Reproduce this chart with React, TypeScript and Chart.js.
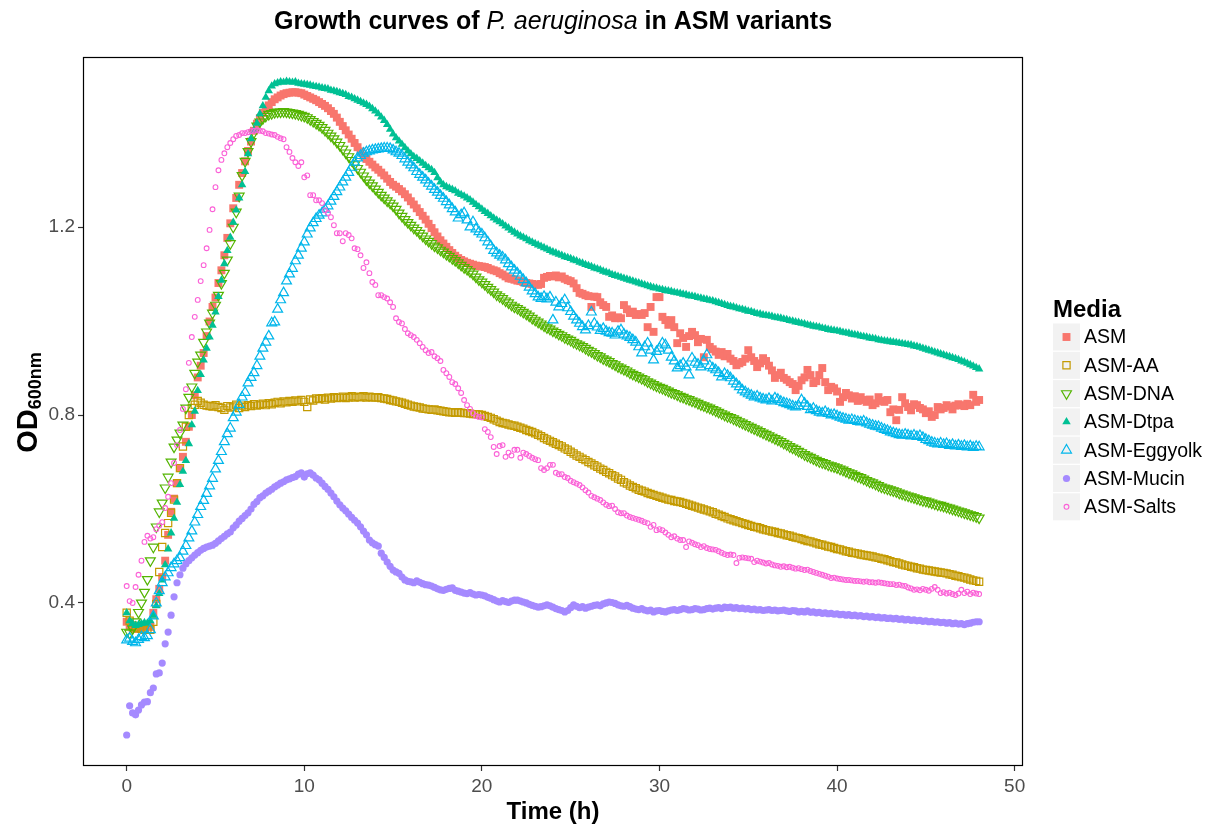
import React, { useEffect, useRef } from "react";
import { Chart, registerables } from "chart.js";

Chart.register(...registerables);

// ---------------- data ----------------
const MEDIA = ["ASM", "ASM-AA", "ASM-DNA", "ASM-Dtpa", "ASM-Eggyolk", "ASM-Mucin", "ASM-Salts"];
const X_TICKS = [0, 10, 20, 30, 40, 50];
const Y_TICKS = [0.4, 0.8, 1.2];
const READING_INTERVAL_H = 1 / 6; // one OD reading every 10 minutes, 0 h to 48 h

const ASM = [
  0.360, 0.352, 0.347, 0.345, 0.346, 0.348,
  0.350, 0.352, 0.349, 0.379, 0.408, 0.430,
  0.455, 0.490, 0.545, 0.594, 0.622, 0.655,
  0.687, 0.711, 0.743, 0.775, 0.800, 0.842,
  0.880, 0.905, 0.932, 0.968, 0.999, 1.030,
  1.050, 1.081, 1.108, 1.140, 1.177, 1.208,
  1.240, 1.262, 1.290, 1.315, 1.340, 1.362,
  1.382, 1.405, 1.420, 1.432, 1.443, 1.452,
  1.459, 1.466, 1.472, 1.476, 1.480, 1.483,
  1.485, 1.486, 1.487, 1.487, 1.486, 1.485,
  1.482, 1.479, 1.476, 1.473, 1.470, 1.466,
  1.462, 1.458, 1.453, 1.447, 1.441, 1.433,
  1.424, 1.415, 1.406, 1.397, 1.388, 1.379,
  1.370, 1.361, 1.352, 1.345, 1.339, 1.333,
  1.327, 1.322, 1.316, 1.310, 1.303, 1.296,
  1.290, 1.286, 1.281, 1.276, 1.270, 1.263,
  1.255, 1.248, 1.240, 1.232, 1.224, 1.216,
  1.207, 1.198, 1.189, 1.180, 1.172, 1.165,
  1.158, 1.151, 1.145, 1.139, 1.134, 1.130,
  1.127, 1.124, 1.122, 1.120, 1.118, 1.117,
  1.116, 1.115, 1.113, 1.110, 1.108, 1.106,
  1.102, 1.099, 1.095, 1.091, 1.090, 1.088,
  1.086, 1.085, 1.083, 1.081, 1.080, 1.079,
  1.078, 1.077, 1.079, 1.092, 1.094, 1.096,
  1.095, 1.097, 1.093, 1.095, 1.090, 1.087,
  1.085, 1.080, 1.070, 1.060, 1.058, 1.055,
  1.053, 1.030, 1.052, 1.051, 1.040, 1.034,
  1.030, 1.009, 1.012, 1.006, 1.008, 1.006,
  1.034, 1.025, 1.017, 1.020, 1.013, 1.015,
  1.013, 1.017, 0.987, 1.030, 0.977, 1.051,
  1.051, 1.009, 1.002, 0.992, 1.002, 0.987,
  0.953, 0.974, 0.964, 0.945, 0.968, 0.977,
  0.970, 0.955, 0.962, 0.923, 0.960, 0.945,
  0.940, 0.935, 0.928, 0.934, 0.925, 0.930,
  0.920, 0.915, 0.906, 0.910, 0.913, 0.920,
  0.938, 0.923, 0.915, 0.902, 0.910, 0.921,
  0.915, 0.905, 0.895, 0.879, 0.885, 0.890,
  0.879, 0.875, 0.870, 0.866, 0.853, 0.862,
  0.874, 0.880, 0.896, 0.885, 0.868, 0.872,
  0.885, 0.900, 0.870, 0.853, 0.860, 0.857,
  0.850, 0.828, 0.838, 0.847, 0.842, 0.835,
  0.840, 0.830, 0.838, 0.832, 0.828, 0.833,
  0.821, 0.825, 0.838, 0.830, 0.828, 0.832,
  0.806, 0.812, 0.789, 0.811, 0.838, 0.825,
  0.817, 0.810, 0.823, 0.821, 0.815, 0.812,
  0.804, 0.808, 0.796, 0.800, 0.817, 0.812,
  0.815, 0.821, 0.818, 0.812, 0.820, 0.823,
  0.821, 0.819, 0.824, 0.821, 0.843, 0.828,
  0.832,
];

const ASM_AA = [
  0.379, 0.362, 0.352, 0.348, 0.346, 0.345,
  0.343, 0.345, 0.343, 0.360, 0.398, 0.466,
  0.519, 0.549, 0.570, 0.592, 0.620, 0.655,
  0.687, 0.733, 0.775, 0.800, 0.815, 0.822,
  0.830, 0.826, 0.822, 0.820, 0.819, 0.818,
  0.821, 0.817, 0.815, 0.811, 0.819, 0.816,
  0.818, 0.822, 0.815, 0.820, 0.817, 0.821,
  0.819, 0.823, 0.820, 0.822, 0.824, 0.821,
  0.825, 0.823, 0.826, 0.828, 0.825, 0.829,
  0.827, 0.830, 0.828, 0.831, 0.829, 0.832,
  0.828, 0.817, 0.833, 0.831, 0.835, 0.834,
  0.836, 0.833, 0.837, 0.835, 0.838, 0.836,
  0.837, 0.839, 0.836, 0.838, 0.840, 0.837,
  0.839, 0.838, 0.840, 0.837, 0.839, 0.838,
  0.837, 0.838, 0.836, 0.835, 0.834, 0.832,
  0.831, 0.829, 0.828, 0.826, 0.824, 0.822,
  0.820, 0.818, 0.817, 0.816, 0.814, 0.813,
  0.812, 0.811, 0.812, 0.810, 0.809, 0.808,
  0.807, 0.806, 0.806, 0.805, 0.806, 0.805,
  0.804, 0.804, 0.803, 0.802, 0.802, 0.801,
  0.800, 0.798, 0.796, 0.794, 0.791, 0.788,
  0.785, 0.783, 0.782, 0.780, 0.778, 0.777,
  0.775, 0.773, 0.771, 0.768, 0.766, 0.764,
  0.761, 0.758, 0.755, 0.751, 0.748, 0.745,
  0.742, 0.739, 0.736, 0.733, 0.729, 0.726,
  0.722, 0.718, 0.714, 0.711, 0.707, 0.704,
  0.700, 0.697, 0.693, 0.690, 0.686, 0.683,
  0.679, 0.676, 0.672, 0.669, 0.665, 0.662,
  0.657, 0.654, 0.650, 0.647, 0.644, 0.641,
  0.639, 0.637, 0.634, 0.632, 0.630, 0.628,
  0.626, 0.624, 0.622, 0.620, 0.619, 0.617,
  0.616, 0.615, 0.613, 0.611, 0.609, 0.607,
  0.605, 0.603, 0.601, 0.599, 0.597, 0.595,
  0.593, 0.590, 0.588, 0.585, 0.583, 0.580,
  0.578, 0.576, 0.574, 0.572, 0.570, 0.568,
  0.566, 0.564, 0.562, 0.561, 0.559, 0.557,
  0.555, 0.554, 0.552, 0.551, 0.549, 0.548,
  0.546, 0.544, 0.543, 0.541, 0.539, 0.538,
  0.536, 0.534, 0.532, 0.531, 0.529, 0.527,
  0.525, 0.524, 0.522, 0.520, 0.519, 0.517,
  0.515, 0.514, 0.512, 0.510, 0.509, 0.507,
  0.506, 0.505, 0.503, 0.502, 0.501, 0.500,
  0.499, 0.497, 0.496, 0.494, 0.493, 0.491,
  0.489, 0.487, 0.486, 0.484, 0.482, 0.480,
  0.479, 0.477, 0.476, 0.474, 0.473, 0.471,
  0.470, 0.469, 0.468, 0.467, 0.466, 0.465,
  0.464, 0.463, 0.461, 0.460, 0.458, 0.457,
  0.455, 0.454, 0.452, 0.450, 0.448, 0.447,
  0.445,
];

const ASM_DNA = [
  0.338, 0.336, 0.345, 0.360, 0.380, 0.400,
  0.423, 0.450, 0.490, 0.519, 0.562, 0.594,
  0.613, 0.645, 0.668, 0.700, 0.732, 0.747,
  0.762, 0.779, 0.815, 0.838, 0.860, 0.889,
  0.913, 0.928, 0.955, 0.977, 0.996, 1.017,
  1.034, 1.055, 1.080, 1.102, 1.130, 1.165,
  1.200, 1.232, 1.266, 1.310, 1.340, 1.361,
  1.382, 1.401, 1.415, 1.424, 1.431, 1.436,
  1.440, 1.442, 1.444, 1.445, 1.445, 1.446,
  1.445, 1.444, 1.443, 1.442, 1.440, 1.438,
  1.436, 1.433, 1.429, 1.425, 1.421, 1.417,
  1.412, 1.406, 1.400, 1.394, 1.388, 1.381,
  1.374, 1.366, 1.358, 1.350, 1.342, 1.333,
  1.325, 1.317, 1.309, 1.301, 1.294, 1.288,
  1.281, 1.274, 1.268, 1.262, 1.256, 1.251,
  1.245, 1.238, 1.230, 1.223, 1.216, 1.210,
  1.204, 1.198, 1.193, 1.187, 1.181, 1.175,
  1.170, 1.165, 1.160, 1.156, 1.151, 1.147,
  1.142, 1.138, 1.133, 1.129, 1.124, 1.119,
  1.114, 1.110, 1.105, 1.100, 1.094, 1.088,
  1.083, 1.078, 1.072, 1.067, 1.062, 1.056,
  1.052, 1.048, 1.043, 1.039, 1.034, 1.030,
  1.027, 1.023, 1.019, 1.015, 1.011, 1.006,
  1.002, 0.998, 0.994, 0.990, 0.986, 0.983,
  0.979, 0.976, 0.972, 0.969, 0.965, 0.962,
  0.959, 0.955, 0.952, 0.949, 0.946, 0.942,
  0.938, 0.935, 0.931, 0.927, 0.924, 0.920,
  0.917, 0.914, 0.910, 0.907, 0.903, 0.900,
  0.897, 0.894, 0.890, 0.887, 0.884, 0.881,
  0.878, 0.875, 0.871, 0.868, 0.865, 0.862,
  0.859, 0.857, 0.854, 0.851, 0.848, 0.846,
  0.843, 0.840, 0.838, 0.835, 0.833, 0.830,
  0.828, 0.825, 0.822, 0.820, 0.817, 0.815,
  0.812, 0.809, 0.806, 0.803, 0.800, 0.797,
  0.795, 0.792, 0.789, 0.786, 0.783, 0.780,
  0.777, 0.774, 0.771, 0.768, 0.765, 0.762,
  0.759, 0.756, 0.753, 0.750, 0.747, 0.744,
  0.740, 0.737, 0.733, 0.730, 0.727, 0.723,
  0.720, 0.716, 0.713, 0.710, 0.707, 0.704,
  0.701, 0.699, 0.697, 0.694, 0.692, 0.690,
  0.688, 0.685, 0.683, 0.680, 0.677, 0.675,
  0.672, 0.669, 0.667, 0.664, 0.661, 0.658,
  0.656, 0.653, 0.650, 0.647, 0.645, 0.643,
  0.641, 0.639, 0.637, 0.634, 0.632, 0.630,
  0.628, 0.626, 0.624, 0.622, 0.620, 0.618,
  0.617, 0.615, 0.613, 0.611, 0.609, 0.608,
  0.606, 0.604, 0.602, 0.600, 0.598, 0.596,
  0.594, 0.592, 0.590, 0.588, 0.586, 0.584,
  0.581,
];

const ASM_DTPA = [
  0.379, 0.362, 0.356, 0.352, 0.354, 0.356,
  0.358, 0.357, 0.362, 0.374, 0.394, 0.420,
  0.449, 0.481, 0.515, 0.549, 0.580, 0.614,
  0.652, 0.680, 0.703, 0.739, 0.779, 0.808,
  0.852, 0.886, 0.917, 0.942, 0.966, 0.991,
  1.019, 1.052, 1.087, 1.122, 1.150, 1.178,
  1.210, 1.236, 1.262, 1.290, 1.318, 1.356,
  1.388, 1.406, 1.421, 1.441, 1.458, 1.476,
  1.490, 1.500, 1.505, 1.507, 1.509, 1.508,
  1.510, 1.509, 1.508, 1.509, 1.506, 1.505,
  1.504, 1.503, 1.502, 1.500, 1.499, 1.498,
  1.496, 1.495, 1.494, 1.491, 1.490, 1.488,
  1.486, 1.484, 1.482, 1.478, 1.476, 1.473,
  1.470, 1.467, 1.464, 1.461, 1.457, 1.452,
  1.447, 1.441, 1.434, 1.427, 1.418, 1.408,
  1.398, 1.390, 1.383, 1.376, 1.369, 1.362,
  1.356, 1.350, 1.346, 1.341, 1.336, 1.331,
  1.326, 1.322, 1.316, 1.305, 1.296, 1.290,
  1.286, 1.283, 1.280, 1.277, 1.272, 1.269,
  1.266, 1.262, 1.258, 1.253, 1.248, 1.243,
  1.238, 1.233, 1.229, 1.224, 1.219, 1.215,
  1.211, 1.207, 1.202, 1.198, 1.193, 1.189,
  1.185, 1.181, 1.178, 1.175, 1.171, 1.168,
  1.165, 1.162, 1.159, 1.156, 1.153, 1.150,
  1.147, 1.145, 1.142, 1.140, 1.137, 1.135,
  1.133, 1.130, 1.128, 1.125, 1.123, 1.120,
  1.118, 1.116, 1.113, 1.111, 1.109, 1.106,
  1.104, 1.102, 1.099, 1.097, 1.095, 1.093,
  1.091, 1.089, 1.087, 1.085, 1.083, 1.081,
  1.079, 1.077, 1.075, 1.073, 1.071, 1.070,
  1.068, 1.067, 1.065, 1.064, 1.063, 1.061,
  1.060, 1.059, 1.057, 1.056, 1.054, 1.053,
  1.052, 1.050, 1.049, 1.047, 1.046, 1.044,
  1.043, 1.041, 1.039, 1.037, 1.035, 1.033,
  1.031, 1.030, 1.028, 1.026, 1.025, 1.023,
  1.021, 1.020, 1.018, 1.016, 1.015, 1.013,
  1.012, 1.011, 1.010, 1.008, 1.007, 1.006,
  1.004, 1.003, 1.001, 1.000, 0.998, 0.997,
  0.995, 0.994, 0.992, 0.991, 0.989, 0.988,
  0.987, 0.985, 0.984, 0.982, 0.981, 0.980,
  0.979, 0.978, 0.976, 0.975, 0.974, 0.972,
  0.971, 0.970, 0.968, 0.967, 0.966, 0.964,
  0.963, 0.962, 0.960, 0.959, 0.958, 0.957,
  0.956, 0.955, 0.954, 0.953, 0.952, 0.951,
  0.950, 0.949, 0.947, 0.946, 0.944, 0.942,
  0.940, 0.938, 0.936, 0.934, 0.932, 0.930,
  0.928, 0.926, 0.924, 0.922, 0.920, 0.918,
  0.915, 0.913, 0.910, 0.907, 0.904, 0.901,
  0.898,
];

const ASM_EGGYOLK = [
  0.321, 0.325, 0.318, 0.315, 0.322, 0.328,
  0.326, 0.330, 0.343, 0.372, 0.400, 0.426,
  0.443, 0.455, 0.464, 0.475, 0.483, 0.490,
  0.496, 0.510, 0.522, 0.538, 0.553, 0.572,
  0.588, 0.605, 0.618, 0.633, 0.649, 0.665,
  0.685, 0.703, 0.722, 0.743, 0.760, 0.772,
  0.794, 0.806, 0.822, 0.838, 0.848, 0.868,
  0.880, 0.890, 0.905, 0.925, 0.942, 0.955,
  0.968, 0.996, 0.998, 1.025, 1.045, 1.060,
  1.085, 1.100, 1.112, 1.128, 1.140, 1.155,
  1.168, 1.185, 1.198, 1.209, 1.218, 1.225,
  1.230, 1.238, 1.245, 1.255, 1.265, 1.275,
  1.285, 1.296, 1.306, 1.316, 1.327, 1.338,
  1.347, 1.352, 1.357, 1.360, 1.362, 1.364,
  1.365, 1.366, 1.367, 1.368, 1.368, 1.367,
  1.364, 1.360, 1.357, 1.352, 1.345, 1.338,
  1.332, 1.326, 1.318, 1.312, 1.306, 1.300,
  1.293, 1.287, 1.280, 1.274, 1.267, 1.261,
  1.254, 1.247, 1.239, 1.232, 1.219, 1.226,
  1.230, 1.215, 1.200, 1.211, 1.196, 1.190,
  1.185, 1.177, 1.168, 1.160, 1.150, 1.145,
  1.140, 1.136, 1.130, 1.122, 1.115, 1.108,
  1.102, 1.095, 1.088, 1.081, 1.072, 1.064,
  1.058, 1.051, 1.048, 1.052, 1.047, 1.051,
  1.002, 1.040, 1.030, 1.037, 1.045, 1.028,
  1.020, 1.010, 1.002, 0.995, 0.988, 0.981,
  0.990, 1.019, 0.995, 0.987, 0.980, 0.984,
  0.978, 0.975, 0.974, 0.970, 0.978, 0.981,
  0.972, 0.968, 0.965, 0.960, 0.955, 0.945,
  0.932, 0.945, 0.953, 0.938, 0.917, 0.935,
  0.942, 0.953, 0.949, 0.938, 0.923, 0.915,
  0.900, 0.905, 0.910, 0.902, 0.885, 0.921,
  0.912, 0.908, 0.902, 0.915, 0.928, 0.905,
  0.900, 0.896, 0.890, 0.881, 0.888, 0.884,
  0.879, 0.872, 0.866, 0.860, 0.853, 0.849,
  0.845, 0.842, 0.838, 0.840, 0.836, 0.834,
  0.832, 0.835, 0.830, 0.836, 0.833, 0.829,
  0.826, 0.824, 0.822, 0.819, 0.817, 0.820,
  0.832, 0.825, 0.818, 0.811, 0.814, 0.809,
  0.806, 0.804, 0.807, 0.803, 0.800, 0.801,
  0.798, 0.795, 0.793, 0.791, 0.789, 0.790,
  0.788, 0.786, 0.785, 0.787, 0.783, 0.780,
  0.778, 0.776, 0.775, 0.772, 0.769, 0.767,
  0.764, 0.762, 0.760, 0.758, 0.757, 0.759,
  0.757, 0.755, 0.757, 0.754, 0.756, 0.752,
  0.748, 0.745, 0.742, 0.740, 0.738, 0.740,
  0.737, 0.739, 0.735, 0.737, 0.734, 0.736,
  0.733, 0.735, 0.732, 0.734, 0.731, 0.733,
  0.732,
];

const ASM_MUCIN = [
  0.119, 0.181, 0.166, 0.162, 0.172, 0.183,
  0.189, 0.190, 0.209, 0.219, 0.249, 0.251,
  0.272, 0.313, 0.338, 0.374, 0.413, 0.443,
  0.460, 0.474, 0.483, 0.490, 0.496, 0.502,
  0.507, 0.512, 0.516, 0.519, 0.521, 0.523,
  0.527, 0.532, 0.537, 0.542, 0.547, 0.551,
  0.560, 0.566, 0.574, 0.580, 0.586, 0.592,
  0.600, 0.610, 0.616, 0.624, 0.628, 0.634,
  0.638, 0.642, 0.647, 0.651, 0.655, 0.658,
  0.662, 0.664, 0.667, 0.669, 0.674, 0.677,
  0.668, 0.675, 0.677, 0.672, 0.666, 0.662,
  0.655, 0.648, 0.642, 0.634, 0.626, 0.617,
  0.609, 0.602, 0.596, 0.589, 0.582, 0.576,
  0.570, 0.562, 0.553, 0.545, 0.534, 0.528,
  0.524, 0.521, 0.506, 0.497, 0.487, 0.478,
  0.470, 0.466, 0.463, 0.455, 0.449, 0.446,
  0.445, 0.443, 0.447, 0.444, 0.441, 0.439,
  0.438, 0.436, 0.433, 0.430, 0.428, 0.427,
  0.429, 0.431, 0.432, 0.427, 0.425, 0.423,
  0.421, 0.420, 0.422, 0.419, 0.417, 0.418,
  0.417, 0.415, 0.412, 0.410, 0.407, 0.404,
  0.402, 0.405, 0.403, 0.401, 0.404, 0.406,
  0.406, 0.404, 0.402, 0.400, 0.397, 0.395,
  0.393, 0.391, 0.392, 0.394, 0.396, 0.394,
  0.391, 0.388, 0.386, 0.384, 0.381, 0.384,
  0.390, 0.396, 0.393, 0.390, 0.392, 0.389,
  0.391, 0.393, 0.395, 0.396, 0.394, 0.398,
  0.400, 0.402, 0.401, 0.399, 0.396, 0.394,
  0.393, 0.395, 0.392, 0.389, 0.387, 0.386,
  0.388, 0.385, 0.383, 0.385, 0.381, 0.383,
  0.384, 0.382, 0.381, 0.383, 0.385, 0.386,
  0.384, 0.386, 0.388, 0.387, 0.385, 0.386,
  0.388, 0.387, 0.385, 0.386, 0.388, 0.389,
  0.387, 0.389, 0.390, 0.388, 0.391, 0.390,
  0.391, 0.389, 0.390, 0.388, 0.389, 0.387,
  0.388, 0.386, 0.387, 0.385, 0.386, 0.384,
  0.385, 0.386, 0.384, 0.385, 0.383, 0.384,
  0.385, 0.383, 0.382, 0.384, 0.383, 0.381,
  0.382, 0.381, 0.383, 0.380, 0.381, 0.379,
  0.380, 0.378, 0.379, 0.377, 0.378, 0.376,
  0.377, 0.375, 0.376, 0.374, 0.375, 0.373,
  0.374, 0.372, 0.373, 0.371, 0.372, 0.370,
  0.371, 0.369, 0.370, 0.368, 0.369, 0.367,
  0.368, 0.366, 0.367, 0.365, 0.366, 0.364,
  0.365, 0.363, 0.364, 0.362, 0.363, 0.361,
  0.362, 0.360, 0.361, 0.359, 0.360, 0.358,
  0.359, 0.357, 0.358, 0.356, 0.357, 0.355,
  0.356, 0.354, 0.356, 0.357, 0.359, 0.360,
  0.360,
];

const ASM_SALTS = [
  0.436, 0.404, 0.400, 0.434, 0.460, 0.490,
  0.530, 0.543, 0.537, 0.540, 0.557, 0.565,
  0.572, 0.602, 0.626, 0.655, 0.698, 0.736,
  0.768, 0.813, 0.855, 0.911, 0.966, 1.009,
  1.045, 1.085, 1.119, 1.155, 1.194, 1.238,
  1.285, 1.321, 1.343, 1.357, 1.370, 1.379,
  1.387, 1.394, 1.396, 1.400, 1.400, 1.402,
  1.404, 1.405, 1.406, 1.405, 1.404, 1.400,
  1.399, 1.397, 1.396, 1.392, 1.389, 1.387,
  1.370, 1.360, 1.347, 1.338, 1.330, 1.338,
  1.306, 1.310, 1.268, 1.268, 1.257, 1.257,
  1.251, 1.236, 1.230, 1.221, 1.204, 1.187,
  1.187, 1.170, 1.187, 1.183, 1.176, 1.155,
  1.153, 1.140, 1.113, 1.125, 1.102, 1.083,
  1.077, 1.055, 1.055, 1.051, 1.048, 1.040,
  1.030, 1.006, 0.998, 0.995, 0.983, 0.974,
  0.970, 0.966, 0.960, 0.953, 0.945, 0.938,
  0.932, 0.934, 0.925, 0.921, 0.915, 0.896,
  0.889, 0.881, 0.870, 0.866, 0.857, 0.847,
  0.832, 0.821, 0.813, 0.804, 0.798, 0.796,
  0.795, 0.770, 0.764, 0.753, 0.732, 0.717,
  0.734, 0.736, 0.711, 0.720, 0.714, 0.726,
  0.726, 0.709, 0.720, 0.717, 0.713, 0.709,
  0.706, 0.704, 0.687, 0.683, 0.687, 0.694,
  0.694, 0.677, 0.674, 0.674, 0.668, 0.666,
  0.660, 0.657, 0.654, 0.651, 0.646, 0.640,
  0.635, 0.628, 0.625, 0.622, 0.619, 0.614,
  0.609, 0.606, 0.607, 0.600, 0.593, 0.591,
  0.591, 0.586, 0.583, 0.581, 0.579, 0.577,
  0.575, 0.572, 0.570, 0.562, 0.566, 0.555,
  0.557, 0.555, 0.550, 0.545, 0.540, 0.542,
  0.537, 0.534, 0.534, 0.519, 0.531, 0.528,
  0.525, 0.523, 0.519, 0.521, 0.517, 0.515,
  0.514, 0.513, 0.510, 0.507, 0.504, 0.502,
  0.503, 0.502, 0.485, 0.496, 0.497, 0.496,
  0.495, 0.494, 0.487, 0.490, 0.488, 0.486,
  0.484, 0.485, 0.482, 0.480, 0.479, 0.477,
  0.478, 0.476, 0.477, 0.475, 0.473, 0.474,
  0.472, 0.470, 0.471, 0.468, 0.466, 0.464,
  0.462, 0.460, 0.458, 0.456, 0.453, 0.454,
  0.452, 0.451, 0.450, 0.449, 0.449, 0.448,
  0.447, 0.447, 0.446, 0.445, 0.446, 0.444,
  0.444, 0.443, 0.444, 0.443, 0.442, 0.441,
  0.440, 0.440, 0.438, 0.439, 0.437, 0.436,
  0.433, 0.431, 0.428, 0.429, 0.427, 0.430,
  0.428, 0.426, 0.430, 0.434, 0.428, 0.421,
  0.423, 0.420, 0.422, 0.419, 0.417, 0.420,
  0.428, 0.421, 0.424, 0.419, 0.422, 0.420,
  0.419,
];

const SERIES = [ASM, ASM_AA, ASM_DNA, ASM_DTPA, ASM_EGGYOLK, ASM_MUCIN, ASM_SALTS];

// ---------------- styles ----------------
const COLORS = ["#F8766D", "#C49A00", "#53B400", "#00C094", "#00B6EB", "#A58AFF", "#FB61D7"];
type MarkerStyle = { shape: "rect" | "triangle" | "circle"; r: number; rot: number; filled: boolean; lw: number };
const MARKERS: MarkerStyle[] = [
  { shape: "rect", r: 5.6, rot: 0, filled: true, lw: 0 },
  { shape: "rect", r: 5.1, rot: 0, filled: false, lw: 1.2 },
  { shape: "triangle", r: 5.7, rot: 180, filled: false, lw: 1.2 },
  { shape: "triangle", r: 4.9, rot: 0, filled: true, lw: 0 },
  { shape: "triangle", r: 5.7, rot: 0, filled: false, lw: 1.2 },
  { shape: "circle", r: 3.6, rot: 0, filled: true, lw: 0 },
  { shape: "circle", r: 2.4, rot: 0, filled: false, lw: 1.1 },
];

const FONT = "'Liberation Sans', Arial, Helvetica, sans-serif";
const W = 1205;
const H = 827;

function drawMarker(ctx: CanvasRenderingContext2D, m: MarkerStyle, color: string, x: number, y: number) {
  ctx.save();
  ctx.beginPath();
  if (m.shape === "circle") {
    ctx.arc(x, y, m.r, 0, Math.PI * 2);
  } else if (m.shape === "rect") {
    const s = Math.SQRT1_2 * m.r;
    ctx.rect(x - s, y - s, 2 * s, 2 * s);
  } else {
    let rad = (m.rot * Math.PI) / 180;
    const step = (2 * Math.PI) / 3;
    ctx.moveTo(x + Math.sin(rad) * m.r, y - Math.cos(rad) * m.r);
    rad += step;
    ctx.lineTo(x + Math.sin(rad) * m.r, y - Math.cos(rad) * m.r);
    rad += step;
    ctx.lineTo(x + Math.sin(rad) * m.r, y - Math.cos(rad) * m.r);
    ctx.closePath();
  }
  if (m.filled) {
    ctx.fillStyle = color;
    ctx.fill();
  } else {
    ctx.strokeStyle = color;
    ctx.lineWidth = m.lw;
    ctx.stroke();
  }
  ctx.restore();
}

const decorPlugin = {
  id: "decor",
  afterDatasetsDraw(chart: any) {
    const { ctx, chartArea: a } = chart;
    ctx.save();
    ctx.strokeStyle = "#000000";
    ctx.lineWidth = 1.2;
    ctx.strokeRect(a.left + 0.5, a.top + 0.5, a.right - a.left - 1, a.bottom - a.top - 1);
    ctx.restore();
  },
  afterDraw(chart: any) {
    const { ctx, chartArea: a } = chart;
    const cx = (a.left + a.right) / 2;
    ctx.save();
    ctx.fillStyle = "#000000";
    ctx.textBaseline = "alphabetic";

    // title with italic species name
    const parts = [
      { t: "Growth curves of ", f: `bold 25px ${FONT}` },
      { t: "P. aeruginosa", f: `italic 25px ${FONT}` },
      { t: " in ASM variants", f: `bold 25px ${FONT}` },
    ];
    let total = 0;
    const widths = parts.map((p) => {
      ctx.font = p.f;
      const w = ctx.measureText(p.t).width;
      total += w;
      return w;
    });
    let x = cx - total / 2;
    parts.forEach((p, i) => {
      ctx.font = p.f;
      ctx.textAlign = "left";
      ctx.fillText(p.t, x, 29);
      x += widths[i];
    });

    // x axis title
    ctx.font = `bold 24px ${FONT}`;
    ctx.textAlign = "center";
    ctx.fillText("Time (h)", cx, 819);

    // y axis title OD600nm (subscript)
    ctx.save();
    ctx.translate(37, (a.top + a.bottom) / 2 - 9);
    ctx.rotate(-Math.PI / 2);
    ctx.textAlign = "left";
    ctx.font = `bold 29px ${FONT}`;
    const wOD = ctx.measureText("OD").width;
    ctx.font = `bold 18px ${FONT}`;
    const wSub = ctx.measureText("600nm").width;
    const start = -(wOD + wSub) / 2;
    ctx.font = `bold 29px ${FONT}`;
    ctx.fillText("OD", start, 0);
    ctx.font = `bold 18px ${FONT}`;
    ctx.fillText("600nm", start + wOD, 4);
    ctx.restore();

    // legend
    ctx.textAlign = "left";
    ctx.font = `bold 24px ${FONT}`;
    ctx.fillText("Media", 1053, 317);
    const pitch = 28.3;
    MEDIA.forEach((name, i) => {
      const cy = 337 + i * pitch;
      ctx.fillStyle = "#F2F2F2";
      ctx.fillRect(1053, cy - 13.5, 27, 27);
      drawMarker(ctx, MARKERS[i], COLORS[i], 1066.5, cy);
      ctx.fillStyle = "#000000";
      ctx.font = `19.5px ${FONT}`;
      ctx.textBaseline = "middle";
      ctx.fillText(name, 1084, cy + 1);
      ctx.textBaseline = "alphabetic";
    });
    ctx.restore();
  },
};

export default function App() {
  const ref = useRef<HTMLCanvasElement | null>(null);

  useEffect(() => {
    if (!ref.current) return;
    const datasets = SERIES.map((vals, si) => {
      const m = MARKERS[si];
      return {
        label: MEDIA[si],
        data: vals.map((v, i) => ({ x: i * READING_INTERVAL_H, y: v })),
        showLine: false,
        order: SERIES.length - si,
        pointStyle: m.shape,
        pointRadius: m.r,
        pointHoverRadius: m.r,
        pointRotation: m.rot,
        pointBackgroundColor: m.filled ? COLORS[si] : "rgba(0,0,0,0)",
        pointBorderColor: COLORS[si],
        pointBorderWidth: m.lw,
        pointHitRadius: 0,
      };
    });

    const tickFont = { family: FONT, size: 19 };
    const chart = new Chart(ref.current, {
      type: "scatter",
      data: { datasets },
      options: {
        animation: false,
        responsive: false,
        devicePixelRatio: 1,
        events: [],
        layout: { padding: { top: 57, right: 182, bottom: 0, left: 0 } },
        plugins: { legend: { display: false }, tooltip: { enabled: false }, title: { display: false } },
        scales: {
          x: {
            type: "linear",
            min: -2.46,
            max: 50.47,
            afterFit: (s: any) => {
              s.height = 61;
            },
            afterBuildTicks: (s: any) => {
              s.ticks = X_TICKS.map((v) => ({ value: v }));
            },
            grid: { drawOnChartArea: false, drawTicks: true, tickLength: 5, tickColor: "#333333", tickWidth: 1.2 },
            border: { display: false },
            ticks: {
              color: "#4D4D4D",
              font: tickFont,
              padding: 4,
              maxRotation: 0,
              autoSkip: false,
              callback: (v: any) => String(v),
            },
          },
          y: {
            type: "linear",
            min: 0.053,
            max: 1.562,
            afterFit: (s: any) => {
              s.width = 83;
            },
            afterBuildTicks: (s: any) => {
              s.ticks = Y_TICKS.map((v) => ({ value: v }));
            },
            grid: { drawOnChartArea: false, drawTicks: true, tickLength: 5, tickColor: "#333333", tickWidth: 1.2 },
            border: { display: false },
            ticks: {
              color: "#4D4D4D",
              font: tickFont,
              padding: 3,
              autoSkip: false,
              callback: (v: any) => Number(v).toFixed(1),
            },
          },
        },
      },
      plugins: [decorPlugin],
    } as any);
    return () => chart.destroy();
  }, []);

  return (
    <div style={{ position: "fixed", left: 0, top: 0, width: W, height: H, background: "#ffffff" }}>
      <canvas ref={ref} width={W} height={H} style={{ width: W, height: H, display: "block" }} />
    </div>
  );
}
